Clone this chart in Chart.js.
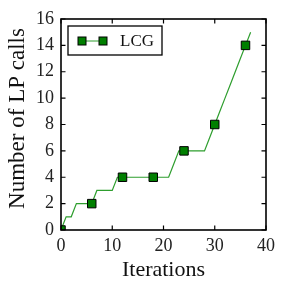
<!DOCTYPE html>
<html>
<head>
<meta charset="utf-8">
<script src="https://cdn.jsdelivr.net/npm/chart.js@4/dist/chart.umd.min.js"></script>
<style>
  html, body { margin: 0; padding: 0; background: #fff; }
  #wrap { width: 286px; height: 291px; }
</style>
</head>
<body>
<div id="wrap"><canvas id="grafica"></canvas></div>
<script>
// --- DATOS ---
const SERIE_NOMBRE = 'LCG';
const TITULO_X = 'Iterations';
const TITULO_Y = 'Number of LP calls';
const iteraciones = [0, 1, 2, 3, 4, 5, 6, 7, 8, 9, 10, 11, 12, 13, 14, 15, 16, 17, 18, 19,
                     20, 21, 22, 23, 24, 25, 26, 27, 28, 29, 30, 31, 32, 33, 34, 35, 36, 37];
const llamadasLP = [0, 1, 1, 2, 2, 2, 2, 3, 3, 3, 3, 4, 4, 4, 4, 4, 4, 4, 4, 4,
                    4, 4, 5, 6, 6, 6, 6, 6, 6, 7, 8, 9, 10, 11, 12, 13, 14, 15];
const ticksX = [0, 10, 20, 30, 40];
const ticksY = [0, 2, 4, 6, 8, 10, 12, 14, 16];
const CADA_MARCADOR = 6; // un marcador cada 6 iteraciones

// --- ESTILO ---
const FUENTE = 'Liberation Serif';
const VERDE_LINEA = '#2e9e2e';
const VERDE_MARCA = '#007f00';

// Marco completo + ticks hacia dentro en los 4 lados
const marcoPlugin = {
    id: 'marco',
    afterDatasetsDraw(chart) {
        const { ctx, chartArea: a, scales: { x, y } } = chart;
        ctx.save();
        ctx.strokeStyle = '#000';
        ctx.lineWidth = 1.2;
        const L = 4.5;
        ctx.beginPath();
        x.ticks.forEach(t => {
            const px = x.getPixelForValue(t.value);
            ctx.moveTo(px, a.bottom); ctx.lineTo(px, a.bottom - L);
            ctx.moveTo(px, a.top); ctx.lineTo(px, a.top + L);
        });
        y.ticks.forEach(t => {
            const py = y.getPixelForValue(t.value);
            ctx.moveTo(a.left, py); ctx.lineTo(a.left + L, py);
            ctx.moveTo(a.right, py); ctx.lineTo(a.right - L, py);
        });
        ctx.stroke();
        ctx.lineWidth = 1.6;
        ctx.strokeRect(a.left, a.top, a.right - a.left, a.bottom - a.top);
        ctx.restore();
    },
    afterDraw(chart) {
        const { ctx, chartArea: a } = chart;
        const ds = chart.data.datasets[0];

        // título eje Y (algo desplazado hacia arriba, como en el original)
        ctx.save();
        ctx.translate(17.5, (a.top + a.bottom) / 2 - 6);
        ctx.rotate(-Math.PI / 2);
        ctx.fillStyle = '#111';
        ctx.font = `23px "${FUENTE}"`;
        ctx.textAlign = 'center';
        ctx.textBaseline = 'middle';
        ctx.fillText(TITULO_Y, 0, 0);
        ctx.restore();

        // Leyenda estilo matplotlib: marcador-línea-marcador + texto
        const bx = a.left + 7, by = a.top + 7, bw = 94, bh = 29;
        const cy = by + bh / 2 + 0.5;
        ctx.save();
        ctx.fillStyle = '#fff';
        ctx.strokeStyle = '#000';
        ctx.lineWidth = 1.3;
        ctx.fillRect(bx, by, bw, bh);
        ctx.strokeRect(bx, by, bw, bh);
        ctx.strokeStyle = ds.borderColor;
        ctx.lineWidth = 1;
        ctx.beginPath(); ctx.moveTo(bx + 14, cy); ctx.lineTo(bx + 35, cy); ctx.stroke();
        [bx + 14, bx + 35].forEach(mx => {
            ctx.fillStyle = VERDE_MARCA;
            ctx.fillRect(mx - 4, cy - 4, 8, 8);
            ctx.strokeStyle = '#000';
            ctx.strokeRect(mx - 4, cy - 4, 8, 8);
        });
        ctx.fillStyle = '#111';
        ctx.font = `17px "${FUENTE}"`;
        ctx.textBaseline = 'middle';
        ctx.fillText(ds.label, bx + 52, cy + 1);
        ctx.restore();
    }
};

const puntos = iteraciones.map((it, i) => ({ x: it, y: llamadasLP[i] }));
const radios = iteraciones.map(it => (it % CADA_MARCADOR === 0 ? 6 : 0));

new Chart(document.getElementById('grafica'), {
    type: 'line',
    data: {
        datasets: [{
            label: SERIE_NOMBRE,
            data: puntos,
            borderColor: VERDE_LINEA,
            borderWidth: 1.2,
            tension: 0,
            pointStyle: 'rect',
            pointRadius: radios,
            pointBackgroundColor: VERDE_MARCA,
            pointBorderColor: '#000',
            pointBorderWidth: 1
        }]
    },
    options: {
        responsive: true,
        maintainAspectRatio: false,
        animation: false,
        events: [],
        layout: { padding: { left: 0, right: 20, top: 19, bottom: 0 } },
        plugins: { legend: { display: false }, tooltip: { enabled: false } },
        scales: {
            x: {
                type: 'linear', min: 0, max: 40,
                afterFit: s => { s.height = 61; },
                afterBuildTicks: s => { s.ticks = ticksX.map(v => ({ value: v })); },
                grid: { display: false, drawTicks: false },
                border: { display: false },
                ticks: { padding: 5, color: '#222', font: { family: FUENTE, size: 18 } },
                title: { display: true, text: TITULO_X, color: '#111',
                         font: { family: FUENTE, size: 22 }, padding: { top: 0, bottom: 8 } }
            },
            y: {
                type: 'linear', min: 0, max: 16,
                afterFit: s => { s.width = 61; },
                afterBuildTicks: s => { s.ticks = ticksY.map(v => ({ value: v })); },
                grid: { display: false, drawTicks: false },
                border: { display: false },
                ticks: { padding: 7, color: '#222', font: { family: FUENTE, size: 18 } }
            }
        }
    },
    plugins: [marcoPlugin]
});
</script>
</body>
</html>
